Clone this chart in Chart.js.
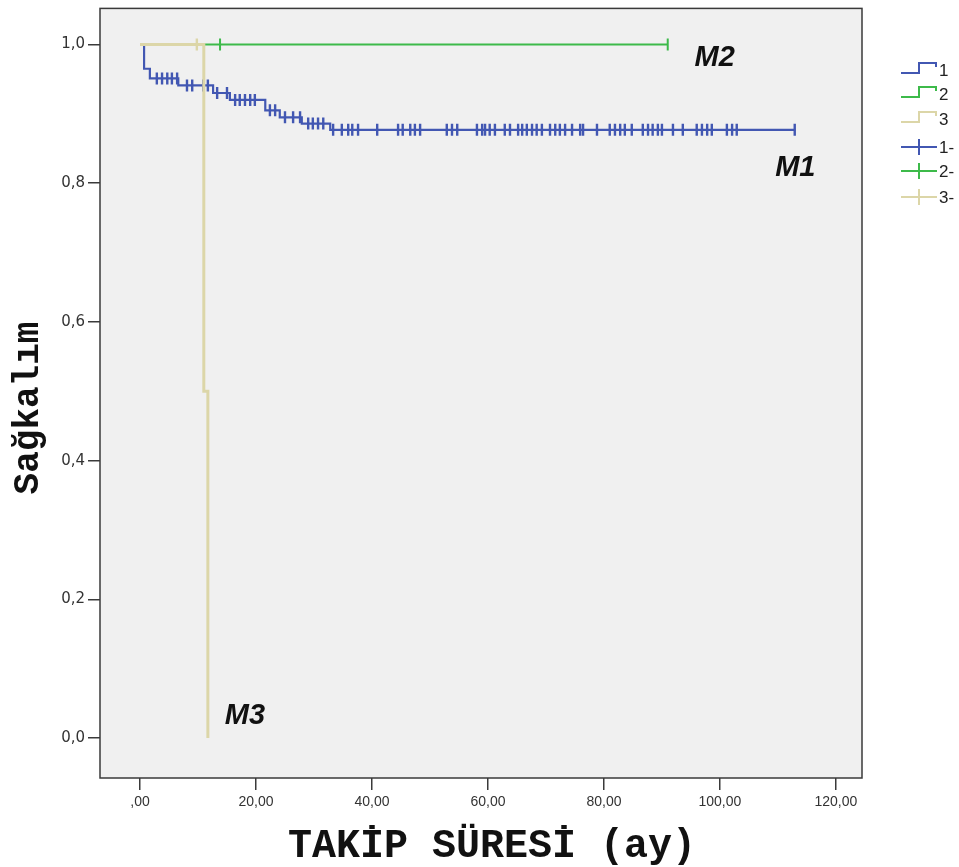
<!DOCTYPE html>
<html><head><meta charset="utf-8">
<script src="https://cdn.jsdelivr.net/npm/chart.js@4.4.1/dist/chart.umd.min.js"></script>
<style>html,body{margin:0;padding:0;background:#fff;}#wrap{width:959px;height:867px;position:relative;}</style>
</head><body><div id="wrap"><canvas id="c" width="959" height="867"></canvas></div>
<script>
// ---- data ----
const xTickValues = [0, 20, 40, 60, 80, 100, 120];
const xTickLabels = [',00', '20,00', '40,00', '60,00', '80,00', '100,00', '120,00'];
const yTickValues = [0, 0.2, 0.4, 0.6, 0.8, 1.0];
const yTickLabels = ['0,0', '0,2', '0,4', '0,6', '0,8', '1,0'];
const seriesNames = ['1', '2', '3', '1-', '2-', '3-'];
const xTitle = 'TAKİP SÜRESİ (ay)';
const yTitle = 'Sağkalım';

// group 1 (M1)
const m1Times = [0, 0.7, 1.7, 6.6, 12.6, 15.5, 21.6, 24.1, 27.9, 32.8, 113.0];
const m1Surv  = [1.0, 0.965, 0.951, 0.941, 0.930, 0.920, 0.905, 0.895, 0.886, 0.877, 0.877];
const m1Censored = [2.9, 3.8, 4.7, 5.5, 6.4, 8.1, 9.0, 10.9, 11.7, 13.3, 15.0, 16.4, 17.2, 18.1, 19.0, 19.8,
  22.4, 23.3, 25.0, 26.4, 27.6, 29.0, 29.8, 30.7, 31.6, 33.3, 34.8, 35.9, 36.6, 37.6, 40.9, 44.5, 45.3,
  46.6, 47.4, 48.3, 52.9, 53.8, 54.7, 58.1, 59.0, 59.5, 60.3, 61.2, 62.9, 63.8, 65.2, 65.9, 66.7, 67.6,
  68.4, 69.3, 70.7, 71.6, 72.4, 73.3, 74.5, 75.9, 76.4, 78.8, 81.0, 81.9, 82.8, 83.6, 84.8, 86.7, 87.6,
  88.4, 89.3, 90.0, 91.9, 93.6, 96.0, 96.9, 97.8, 98.6, 101.2, 102.1, 102.9, 112.9];

// group 2 (M2)
const m2Times = [0, 91.0];
const m2Surv  = [1.0, 1.0];
const m2Censored = [13.8, 91.0];

// group 3 (M3)
const m3Times = [0, 11.0, 11.7];
const m3Surv  = [1.0, 0.5, 0.0];
const m3Censored = [9.8];

// annotation labels
const noteLabels = ['M1', 'M2', 'M3'];
const noteX = [113.0, 99.1, 18.1];
const noteY = [0.822, 0.981, 0.032];

// ---- helpers ----
function toPoints(ts, ss) { return ts.map((t, i) => ({x: t, y: ss[i]})); }
function survAt(ts, ss, t) { let v = ss[0]; for (let i = 0; i < ts.length; i++) { if (ts[i] <= t) v = ss[i]; } return v; }
function censorPoints(cs, ts, ss) { return cs.map(t => ({x: t, y: survAt(ts, ss, t)})); }

const C1 = '#4257b2', C2 = '#3dba4a', C3 = '#dcd6a8';
const colors = [C1, C2, C3];
const MONO = '"Liberation Mono", "DejaVu Sans Mono", monospace';

const frame = {
  id: 'frame',
  beforeDraw(chart) {
    const {ctx, chartArea: a} = chart;
    ctx.save();
    ctx.fillStyle = '#ffffff'; ctx.fillRect(0, 0, chart.width, chart.height);
    ctx.fillStyle = '#f0f0f0'; ctx.fillRect(a.left, a.top, a.right - a.left, a.bottom - a.top);
    ctx.restore();
  },
  afterDraw(chart) {
    const {ctx, chartArea: a, scales} = chart;
    ctx.save();
    ctx.strokeStyle = '#3a3a3a'; ctx.lineWidth = 1.5;
    ctx.strokeRect(a.left, a.top, a.right - a.left, a.bottom - a.top);
    // axis titles
    ctx.fillStyle = '#111';
    ctx.textAlign = 'center'; ctx.textBaseline = 'middle';
    ctx.font = 'bold 40px ' + MONO;
    ctx.fillText(xTitle, 492, 847);
    ctx.save();
    ctx.translate(29, 408); ctx.rotate(-Math.PI / 2);
    ctx.font = 'bold 36px ' + MONO;
    ctx.fillText(yTitle, 0, 0);
    ctx.restore();
    // annotations
    ctx.fillStyle = '#111';
    ctx.font = 'italic bold 29px "Liberation Sans", Arial, sans-serif';
    noteLabels.forEach((t, i) => ctx.fillText(t, scales.x.getPixelForValue(noteX[i]), scales.y.getPixelForValue(noteY[i])));
    // legend
    const rows = [70, 94, 119, 147, 171, 197];
    ctx.font = '17px "Liberation Sans", Arial, sans-serif';
    ctx.textAlign = 'left';
    seriesNames.forEach((name, i) => {
      const y = rows[i];
      ctx.strokeStyle = colors[i % 3]; ctx.lineWidth = 2;
      ctx.beginPath();
      if (i < 3) {
        ctx.moveTo(901, y + 3); ctx.lineTo(919, y + 3); ctx.lineTo(919, y - 7); ctx.lineTo(936, y - 7); ctx.lineTo(936, y - 3);
      } else {
        ctx.moveTo(901, y); ctx.lineTo(937, y); ctx.moveTo(919, y - 8); ctx.lineTo(919, y + 8);
      }
      ctx.stroke();
      ctx.fillStyle = '#222';
      ctx.fillText(name, 939, y + 1);
    });
    ctx.restore();
  }
};

const lineDs = (label, ts, ss, color, order, w) => ({
  label, data: toPoints(ts, ss), borderColor: color, backgroundColor: color,
  borderWidth: w, stepped: true, pointRadius: 0, fill: false, order
});
const censDs = (label, cs, ts, ss, color, order, w) => ({
  label, data: censorPoints(cs, ts, ss), borderColor: color, backgroundColor: color,
  showLine: false, pointStyle: 'line', rotation: 90, pointRadius: 6, pointBorderWidth: w, order
});

new Chart(document.getElementById('c'), {
  type: 'line',
  data: {
    datasets: [
      lineDs(seriesNames[0], m1Times, m1Surv, C1, 5, 2.2),
      lineDs(seriesNames[1], m2Times, m2Surv, C2, 3, 2),
      lineDs(seriesNames[2], m3Times, m3Surv, C3, 1, 3),
      censDs(seriesNames[3], m1Censored, m1Times, m1Surv, C1, 4, 2.4),
      censDs(seriesNames[4], m2Censored, m2Times, m2Surv, C2, 2, 2),
      censDs(seriesNames[5], m3Censored, m3Times, m3Surv, C3, 0, 2.4)
    ]
  },
  options: {
    responsive: false, animation: false, devicePixelRatio: 1,
    layout: {padding: {top: 2, right: 97, left: 0, bottom: 0}},
    plugins: {legend: {display: false}, tooltip: {enabled: false}},
    scales: {
      x: {
        type: 'linear', min: -6.9, max: 124.5,
        afterFit(s) { s.height = 89; s.paddingLeft = 0; s.paddingRight = 0; },
        afterBuildTicks(s) { s.ticks = xTickValues.map(v => ({value: v})); },
        grid: {drawOnChartArea: false, drawTicks: true, tickLength: 12, color: '#3a3a3a', lineWidth: 1.5},
        border: {display: false},
        ticks: {
          padding: 4, color: '#333', font: {family: '"Liberation Sans", Arial, sans-serif', size: 14},
          callback: (v) => { const i = xTickValues.indexOf(v); return i >= 0 ? xTickLabels[i] : ''; }
        }
      },
      y: {
        type: 'linear', min: -0.0576, max: 1.052,
        afterFit(s) { s.width = 100; s.paddingTop = 0; s.paddingBottom = 0; },
        afterBuildTicks(s) { s.ticks = yTickValues.map(v => ({value: v})); },
        grid: {drawOnChartArea: false, drawTicks: true, tickLength: 12, color: '#3a3a3a', lineWidth: 1.5},
        border: {display: false},
        ticks: {
          padding: 3, color: '#333', font: {family: '"DejaVu Sans", Arial, sans-serif', size: 15},
          callback: (v) => { const i = yTickValues.findIndex(t => Math.abs(t - v) < 1e-9); return i >= 0 ? yTickLabels[i] : ''; }
        }
      }
    }
  },
  plugins: [frame]
});
</script></body></html>
